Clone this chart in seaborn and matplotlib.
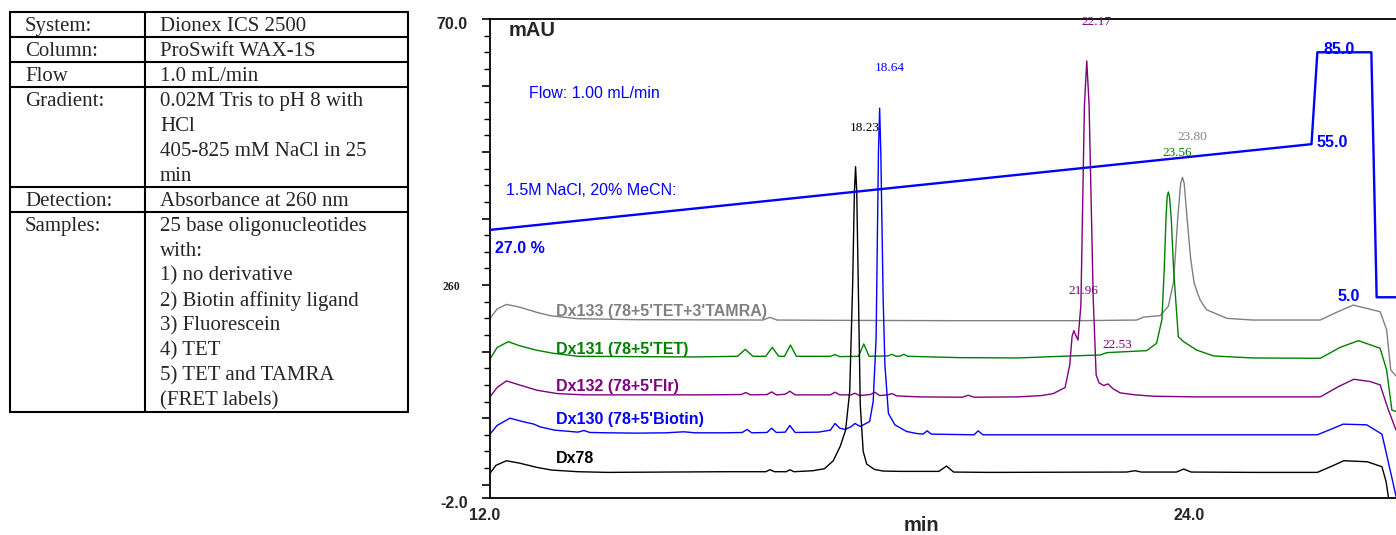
import numpy as np
import pandas as pd
import matplotlib
matplotlib.use("Agg")
import matplotlib.pyplot as plt
import matplotlib.transforms as mtransforms
from matplotlib.ticker import MultipleLocator
import seaborn as sns

# chromatogram traces (time in min, absorbance in mAU)
DX78_T = [12.00, 12.10, 12.28, 12.50, 12.80, 13.05, 13.50, 14.00, 15.00, 16.00, 16.70, 16.77, 16.85, 17.05,
          17.11, 17.18, 17.50, 17.70, 17.85, 17.97, 18.06, 18.13, 18.18, 18.21, 18.23, 18.25, 18.28, 18.31,
          18.36, 18.42, 18.55, 18.70, 19.00, 19.65, 19.78, 19.90, 20.50, 22.85, 22.99, 23.10, 23.70, 23.82,
          23.95, 25.00, 26.10, 26.35, 26.55, 26.95, 27.20, 27.27, 27.33]
DX78_MAU = [1.7, 2.9, 3.6, 3.25, 2.6, 2.2, 1.95, 1.85, 1.9, 1.95, 1.95, 2.25, 1.95, 1.95,
            2.25, 1.95, 2.1, 2.4, 3.6, 5.8, 8.2, 14.0, 30.0, 44.0, 47.8, 44.0, 28.0, 12.0,
            5.0, 3.1, 2.3, 2.05, 2.0, 2.0, 2.8, 1.9, 1.85, 1.9, 2.1, 1.9, 1.9, 2.35,
            1.9, 1.85, 1.85, 2.8, 3.6, 3.45, 2.7, 0.5, -3.0]

DX130_T = [12.00, 12.12, 12.34, 12.55, 12.65, 12.75, 12.85, 13.10, 13.50, 13.60, 13.70, 14.00, 14.50, 15.00,
           15.30, 15.50, 16.00, 16.30, 16.38, 16.46, 16.72, 16.80, 16.88, 17.03, 17.11, 17.20, 17.60, 17.80,
           17.88, 17.96, 18.05, 18.15, 18.22, 18.31, 18.47, 18.53, 18.58, 18.62, 18.64, 18.66, 18.70, 18.73,
           18.79, 18.90, 18.96, 19.10, 19.27, 19.38, 19.45, 19.52, 20.25, 20.32, 20.40, 21.00, 26.10, 26.35,
           26.54, 26.94, 27.20, 27.25, 27.46]
DX130_MAU = [7.6, 8.9, 10.0, 9.5, 9.3, 9.1, 8.7, 8.2, 7.9, 8.15, 7.85, 7.8, 7.75, 7.8,
             7.95, 7.8, 7.8, 7.85, 8.3, 7.8, 7.85, 8.5, 7.85, 7.9, 8.9, 7.85, 7.9, 8.2,
             9.2, 8.5, 8.3, 8.7, 9.2, 8.75, 9.5, 12.5, 22.0, 50.0, 56.6, 50.0, 28.0, 18.0,
             10.7, 9.0, 8.7, 8.0, 7.7, 7.6, 8.1, 7.6, 7.5, 8.1, 7.5, 7.5, 7.5, 8.4,
             9.1, 9.0, 7.6, 5.7, -2.5]

DX132_T = [12.00, 12.12, 12.28, 12.50, 12.80, 13.14, 13.60, 14.50, 15.50, 16.28, 16.36, 16.44, 16.72, 16.80,
           16.88, 17.03, 17.11, 17.20, 17.80, 17.88, 17.96, 18.15, 18.22, 18.30, 18.48, 18.56, 18.64, 18.78,
           18.85, 18.93, 19.30, 20.05, 20.15, 20.25, 21.00, 21.40, 21.60, 21.80, 21.88, 21.92, 21.95, 21.98,
           22.02, 22.07, 22.13, 22.17, 22.21, 22.28, 22.33, 22.38, 22.46, 22.53, 22.62, 22.74, 23.00, 23.30,
           24.00, 26.15, 26.45, 26.72, 27.00, 27.17, 27.30, 27.44]
DX132_MAU = [13.2, 14.6, 15.6, 15.0, 14.2, 13.7, 13.5, 13.5, 13.5, 13.55, 13.85, 13.5, 13.55, 13.95,
             13.5, 13.6, 14.05, 13.5, 13.5, 13.9, 13.5, 13.5, 13.75, 13.4, 13.55, 13.9, 13.4, 13.5,
             13.7, 13.35, 13.2, 13.15, 13.45, 13.15, 13.2, 13.4, 13.7, 14.6, 18.0, 22.3, 23.15, 22.5,
             21.75, 27.0, 57.0, 63.7, 57.0, 28.0, 16.5, 15.3, 14.9, 15.15, 14.4, 13.8, 13.5, 13.3,
             13.2, 13.2, 14.7, 15.85, 15.5, 15.0, 11.5, 8.2]

DX131_T = [12.00, 12.12, 12.31, 12.50, 12.80, 13.08, 13.50, 14.50, 15.50, 16.22, 16.35, 16.48, 16.70, 16.81,
           16.92, 17.02, 17.12, 17.22, 17.80, 17.88, 17.96, 18.28, 18.37, 18.46, 18.78, 18.85, 18.92, 19.00,
           19.05, 19.12, 20.00, 21.00, 21.89, 22.40, 22.51, 23.19, 23.36, 23.45, 23.49, 23.52, 23.54, 23.56,
           23.58, 23.61, 23.65, 23.73, 23.82, 24.04, 24.33, 25.00, 26.15, 26.49, 26.80, 27.17, 27.28, 27.37,
           27.44]
DX131_MAU = [18.9, 20.6, 21.5, 20.9, 20.2, 19.75, 19.3, 19.25, 19.2, 19.3, 20.35, 19.3, 19.3, 20.65,
             19.3, 19.3, 21.0, 19.3, 19.3, 19.55, 19.25, 19.3, 21.15, 19.3, 19.35, 19.6, 19.3, 19.35,
             19.6, 19.3, 19.1, 19.05, 19.35, 19.5, 19.85, 20.15, 21.25, 24.8, 32.3, 40.0, 43.3, 44.0,
             43.3, 40.0, 32.3, 22.25, 21.5, 20.25, 19.35, 19.05, 19.0, 20.65, 21.65, 20.5, 17.25, 11.2,
             11.0]

DX133_T = [12.00, 12.12, 12.28, 12.50, 12.80, 13.03, 13.50, 14.50, 16.65, 16.77, 16.89, 18.00, 20.00, 22.00,
           23.02, 23.14, 23.42, 23.56, 23.65, 23.72, 23.77, 23.80, 23.83, 23.88, 23.94, 24.00, 24.05, 24.10,
           24.21, 24.56, 25.00, 26.15, 26.45, 26.71, 27.17, 27.28, 27.35, 27.44]
DX133_MAU = [25.0, 26.4, 27.1, 26.7, 25.9, 25.4, 24.95, 24.8, 24.75, 25.15, 24.75, 24.7, 24.65, 24.65,
             24.75, 25.2, 25.4, 26.8, 30.5, 40.0, 45.3, 46.2, 45.3, 40.0, 34.0, 30.3, 29.0, 27.8,
             26.3, 25.0, 24.75, 24.75, 26.0, 27.0, 26.0, 23.3, 17.25, 16.35]

TRACE_NAMES = ["Dx133 (78+5'TET+3'TAMRA)", "Dx131 (78+5'TET)", "Dx132 (78+5'Flr)",
               "Dx130 (78+5'Biotin)", "Dx78"]
TRACE_COLORS = ["#808080", "#008000", "#800080", "#0000ff", "#000000"]

# gradient program (% of 1.5M NaCl, 20% MeCN)
GRAD_T = [12.0, 26.0, 26.1, 27.02, 27.11, 27.6]
GRAD_PCT = [27.0, 55.0, 85.0, 85.0, 5.0, 5.0]

# retention times printed above the peaks
PEAK_TEXT = ["18.23", "18.64", "22.17", "23.80", "23.56", "21.96", "22.53"]
PEAK_COLORS = ["#000000", "#0000ff", "#800080", "#808080", "#008000", "#800080", "#800080"]

TABLE_KEYS = ["System:", "Column:", "Flow", "Gradient:", "Detection:", "Samples:"]
TABLE_VALUES = [["Dionex ICS 2500"],
                ["ProSwift WAX-1S"],
                ["1.0 mL/min"],
                ["0.02M Tris to pH 8 with", "HCl", "405-825 mM NaCl in 25", "min"],
                ["Absorbance at 260 nm"],
                ["25 base oligonucleotides", "with:", "1) no derivative", "2) Biotin affinity ligand",
                 "3) Fluorescein", "4) TET", "5) TET and TAMRA", "(FRET labels)"]]

sns.set_style("white")
plt.rcParams['font.family'] = ['Liberation Sans', 'DejaVu Sans']
SERIF = ['Liberation Serif', 'DejaVu Serif']

traces = [(DX133_T, DX133_MAU), (DX131_T, DX131_MAU), (DX132_T, DX132_MAU),
          (DX130_T, DX130_MAU), (DX78_T, DX78_MAU)]
frames = []
for name, (t, v) in zip(TRACE_NAMES, traces):
    frames.append(pd.DataFrame({"time": t, "mAU": v, "sample": name}))
df = pd.concat(frames, ignore_index=True)

fig = plt.figure(figsize=(13.96, 5.35), dpi=100)

# ---- method table on the left, drawn in pixel coordinates
tab = fig.add_axes([0, 0, 1, 1])
tab.set_xlim(0, 1396)
tab.set_ylim(535, 0)
tab.axis('off')
line_h = 24.96
left, mid, right, top = 9.5, 144.5, 408.3, 12.3
row_top = top
tab.plot([left, right], [top, top], color='black', lw=1.5)
for key, vals in zip(TABLE_KEYS, TABLE_VALUES):
    tab.text(25, row_top + 19, key, fontsize=15, family=SERIF, va='baseline')
    for k, line in enumerate(vals):
        tab.text(160, row_top + 19 + k * line_h, line, fontsize=15, family=SERIF, va='baseline')
    row_top += line_h * len(vals)
    tab.plot([left, right], [row_top, row_top], color='black', lw=1.5)
for xx in (left, mid, right):
    tab.plot([xx, xx], [top, row_top], color='black', lw=1.5)

# ---- chromatogram
ax = fig.add_axes([490 / 1396, 37 / 535, 906 / 1396, 479 / 535])
sns.lineplot(data=df, x="time", y="mAU", hue="sample", hue_order=TRACE_NAMES,
             palette=TRACE_COLORS, sort=False, estimator=None, legend=False, lw=1.0, ax=ax)
ax.set_xlim(12.0, 27.44)
ax.set_ylim(-2.0, 70.0)

# gradient on its own scale (27 % at 38.3 mAU, 85 % at 65 mAU)
gax = ax.twinx()
sns.lineplot(x=GRAD_T, y=GRAD_PCT, color='#0000ff', lw=1.7, sort=False, estimator=None, ax=gax)
gax.set_ylim(-60.55, 95.87)
gax.set_axis_off()

for side in ['left', 'bottom', 'top']:
    ax.spines[side].set_color('black')
    ax.spines[side].set_linewidth(1.3)
ax.spines['right'].set_visible(False)

ax.set_xticks([12, 14, 16, 18, 20, 22, 24, 26])
ax.set_xticklabels(['12.0', '', '', '', '', '', '24.0', ''], fontweight='bold', fontsize=11.5)
ax.xaxis.set_minor_locator(MultipleLocator(0.5))
ax.set_yticks([-2, 0, 10, 20, 30, 40, 50, 60, 70])
ax.set_yticklabels(['-2.0', '', '', '', '260', '', '', '', '70.0'], fontweight='bold', fontsize=11.5)
ax.yaxis.set_minor_locator(MultipleLocator(2.5))
ax.tick_params(which='major', direction='out', length=6, width=1.2, color='black')
ax.tick_params(axis='y', which='major', pad=10)
ax.tick_params(axis='x', which='major', pad=1)
ax.tick_params(which='minor', direction='out', length=4, width=1.0, color='black')
ax.set_xlabel('')
ax.set_ylabel('')

shift_x = mtransforms.ScaledTranslation(-0.05, 0, fig.dpi_scale_trans)
for lbl in ax.get_xticklabels():
    lbl.set_transform(lbl.get_transform() + shift_x)
for lbl in ax.get_yticklabels():
    if lbl.get_text() == '260':
        lbl.set_family(SERIF)
        lbl.set_fontsize(8.5)
        lbl.set_transform(lbl.get_transform() + mtransforms.ScaledTranslation(-0.08, 0, fig.dpi_scale_trans))
    else:
        lbl.set_transform(lbl.get_transform() + mtransforms.ScaledTranslation(0, -0.04, fig.dpi_scale_trans))

ax.text(19.35, -6.2, 'min', fontsize=14.5, fontweight='bold', ha='center', va='center')
ax.text(12.31, 68.3, 'mAU', fontsize=14.5, fontweight='bold', ha='left', va='center')
ax.text(12.67, 58.8, 'Flow: 1.00 mL/min', fontsize=11.5, color='#0000ff', ha='left', va='center')
ax.text(12.28, 44.15, '1.5M NaCl, 20% MeCN:', fontsize=11.5, color='#0000ff', ha='left', va='center')
ax.text(12.085, 35.5, '27.0 %', fontsize=11.5, fontweight='bold', color='#0000ff', ha='left', va='center')
ax.text(26.47, 65.4, '85.0', fontsize=11.5, fontweight='bold', color='#0000ff', ha='center', va='center')
ax.text(26.36, 51.4, '55.0', fontsize=11.5, fontweight='bold', color='#0000ff', ha='center', va='center')
ax.text(26.64, 28.3, '5.0', fontsize=11.5, fontweight='bold', color='#0000ff', ha='center', va='center')

trace_label_y = [26.1, 20.25, 14.8, 9.8, 4.0]
for name, col, yy in zip(TRACE_NAMES, TRACE_COLORS, trace_label_y):
    ax.text(13.12, yy, name, fontsize=11.5, fontweight='bold', color=col, ha='left', va='center')

peak_pos = [(18.39, 53.6), (18.81, 62.6), (22.33, 69.5), (23.97, 52.2), (23.72, 49.8),
            (22.12, 29.1), (22.69, 21.0)]
for txt, col, (px, py) in zip(PEAK_TEXT, PEAK_COLORS, peak_pos):
    ax.text(px, py, txt, fontsize=9.5, family=SERIF, color=col, ha='center', va='center')

fig.savefig('out.png', dpi=100)
